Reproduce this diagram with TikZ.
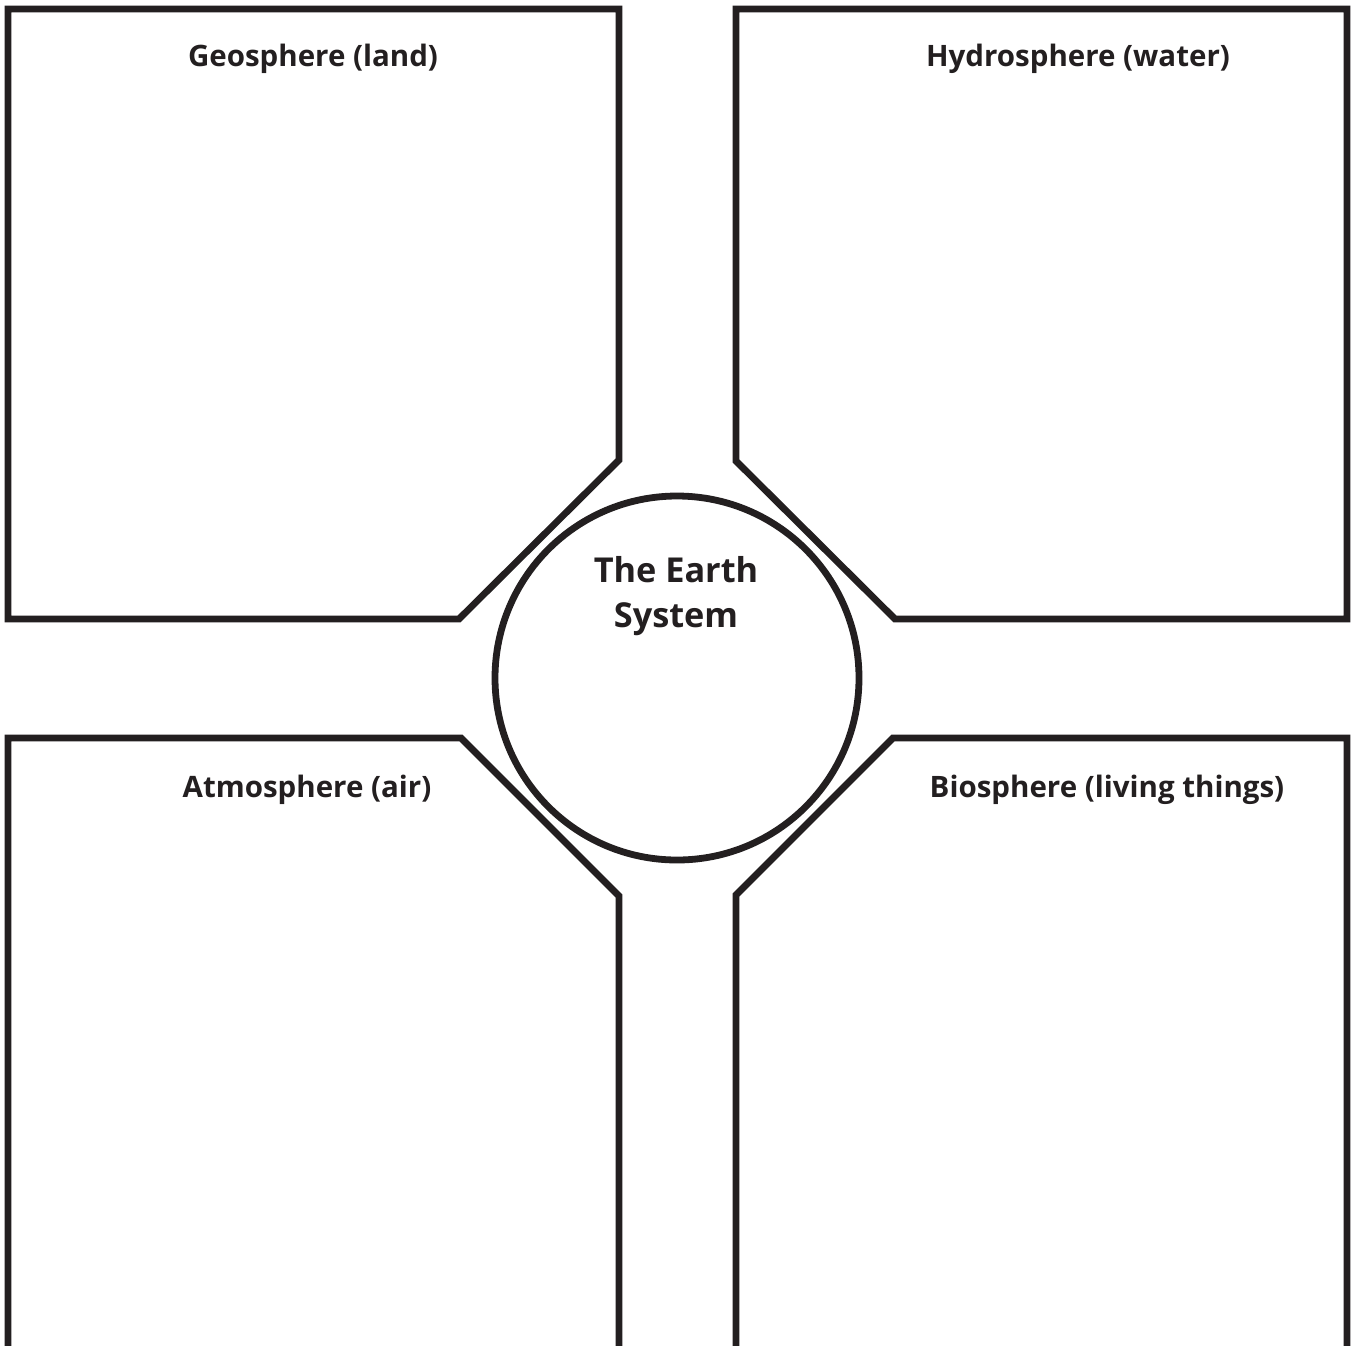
\documentclass[tikz,border=0pt]{standalone}
\usepackage{fontspec}
\setmainfont{Open Sans}
\definecolor{ink}{HTML}{231F20}
\begin{document}
\begin{tikzpicture}[x=1pt,y=-1pt,
  frame/.style={draw=ink,line width=6.8pt,line join=miter},
  title/.style={anchor=base,inner sep=0pt,text=ink,font=\bfseries\fontsize{29.5}{35}\selectfont},
  center/.style={anchor=base,inner sep=0pt,text=ink,font=\bfseries\fontsize{34.3}{41}\selectfont}]
\useasboundingbox[fill=white] (0,0) rectangle (1351,1345);
% boxes
\draw[frame] (8,9) -- (619,9) -- (619,460) -- (459,619) -- (8,619) -- cycle;
\draw[frame] (736,9) -- (1347,9) -- (1347,619) -- (895,619) -- (736,461) -- cycle;
\draw[frame] (8,1360) -- (8,738) -- (461,738) -- (619,896) -- (619,1360);
\draw[frame] (736,1360) -- (736,895) -- (893,738) -- (1347,738) -- (1347,1360);
% circle
\node[draw=ink,line width=6.8pt,circle,minimum size=364pt,inner sep=0pt] (earth) at (677,678) {};
% titles
\node[title] (geo) at (313,66) {Geosphere (land)};
\node[title] (hydro) at (1078,66) {Hydrosphere (water)};
\node[title] (atmo) at (307,797) {Atmosphere (air)};
\node[title] (bio) at (1107,797) {Biosphere (living things)};
\node[center] (t1) at (676,582) {The Earth};
\node[center] (t2) at (676,627) {System};
\end{tikzpicture}
\end{document}
